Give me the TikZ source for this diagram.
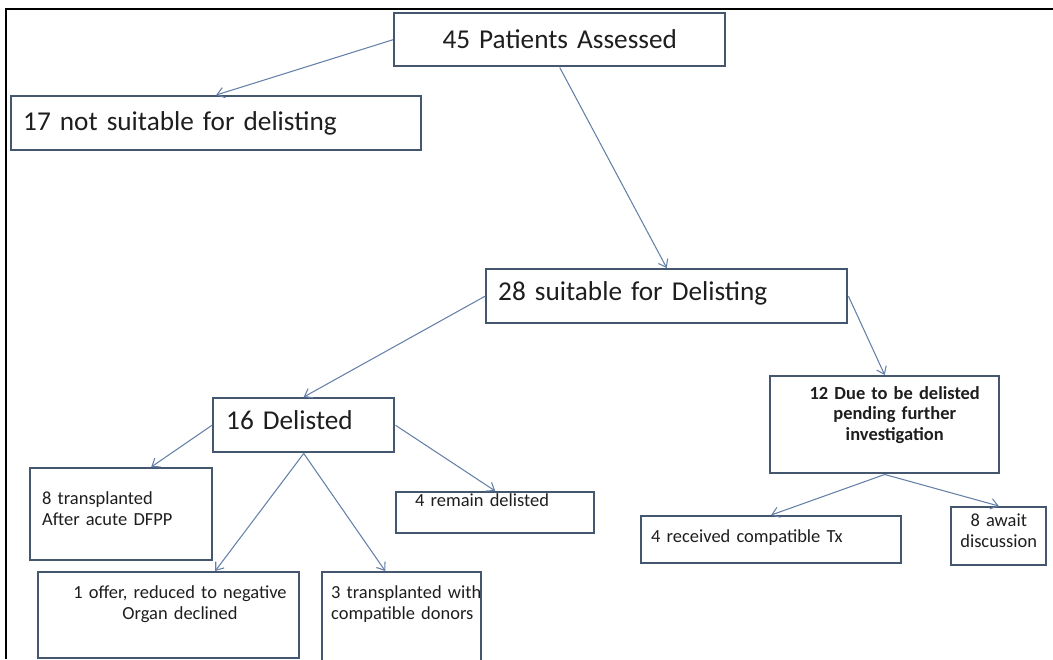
\documentclass[tikz,border=0pt]{standalone}
\usepackage{fontspec}
\setmainfont{Carlito}
\usetikzlibrary{arrows.meta}

\definecolor{boxline}{HTML}{44576F}
\definecolor{arrline}{HTML}{6480A8}
\definecolor{ink}{HTML}{1E1E1E}

\begin{document}
\begin{tikzpicture}[
  box/.style={draw=boxline, line width=1.4pt, fill=white, text=ink, anchor=north west, inner ysep=0pt},
  big/.style={font=\fontsize{15.5}{18}\selectfont, align=left},
  small/.style={font=\fontsize{10.5}{12}\selectfont, align=left},
  arr/.style={-{Straight Barb[length=4pt,width=6pt]}, arrline, line width=0.6pt}
]
\useasboundingbox (0,0) rectangle (21.06,-13.18);

% frame of the slide
\draw[line width=1.2pt] (0.12,-13.18) -- (0.12,-0.18) -- (21.06,-0.18);

% top level
\node[box, big, align=center, inner xsep=0.2cm, text width=6.22cm, text height=0.70cm, text depth=0.36cm]
  (p45) at (7.86,-0.24) {45 Patients Assessed};
\node[box, big, inner xsep=0.24cm, text width=7.72cm, text height=0.68cm, text depth=0.40cm]
  (n17) at (0.20,-1.90) {17 not suitable for delisting};
\node[box, big, inner xsep=0.24cm, text width=6.74cm, text height=0.62cm, text depth=0.46cm]
  (s28) at (9.70,-5.36) {28 suitable for Delisting};

% delisted branch
\node[box, big, inner xsep=0.26cm, text width=3.10cm, text height=0.62cm, text depth=0.46cm]
  (d16) at (4.24,-7.94) {16 Delisted};
\node[box, small, inner xsep=0.24cm, text width=3.16cm, text height=0.72cm, text depth=1.12cm]
  (t8) at (0.58,-9.34) {8 transplanted\\After acute DFPP};
\node[box, small, inner xsep=0.38cm, text width=3.20cm, text height=0.28cm, text depth=0.54cm]
  (r4) at (7.90,-9.82) {4 remain delisted};
\node[box, small, align=center, inner xsep=0.1cm, text width=5.02cm, text height=0.52cm, text depth=1.20cm]
  (o1) at (0.74,-11.42) {\hspace*{0.45cm}1 offer, reduced to negative\\\hspace*{0.45cm}Organ declined};
\node[box, small, inner xsep=0.18cm, text width=2.82cm, text height=0.52cm, text depth=1.86cm]
  (t3) at (6.42,-11.42) {\mbox{3 transplanted with}\\\mbox{compatible donors}};

% pending branch
\node[box, small, align=center, inner xsep=0.1cm, text width=4.38cm, text height=0.46cm, text depth=1.48cm,
  font=\fontsize{10.5}{11.7}\selectfont\bfseries]
  (d12) at (15.38,-7.50) {\hspace*{0.4cm}12 Due to be delisted\\\hspace*{0.4cm}pending further\\\hspace*{0.4cm}investigation};
\node[box, small, inner xsep=0.2cm, text width=4.80cm, text height=0.52cm, text depth=0.42cm]
  (c4) at (12.80,-10.30) {4 received compatible Tx};
\node[box, small, align=center, inner xsep=0.05cm, text width=1.80cm, text height=0.38cm, text depth=0.78cm]
  (a8) at (19.00,-10.12) {8 await\\discussion};

\draw[arr] (p45.west) -- (n17.north);
\draw[arr] (p45.south) -- (s28.north);
\draw[arr] (s28.west) -- (d16.north);
\draw[arr] (s28.east) -- (d12.north);
\draw[arr] (d16.west) -- ([xshift=0.6cm]t8.north);
\draw[arr] (d16.south) -- ([xshift=0.93cm]o1.north);
\draw[arr] (d16.south) -- ([xshift=-0.33cm]t3.north);
\draw[arr] (d16.east) -- (r4.north);
\draw[arr] (d12.south) -- (c4.north);
\draw[arr] (d12.south) -- (a8.north);

\end{tikzpicture}
\end{document}
